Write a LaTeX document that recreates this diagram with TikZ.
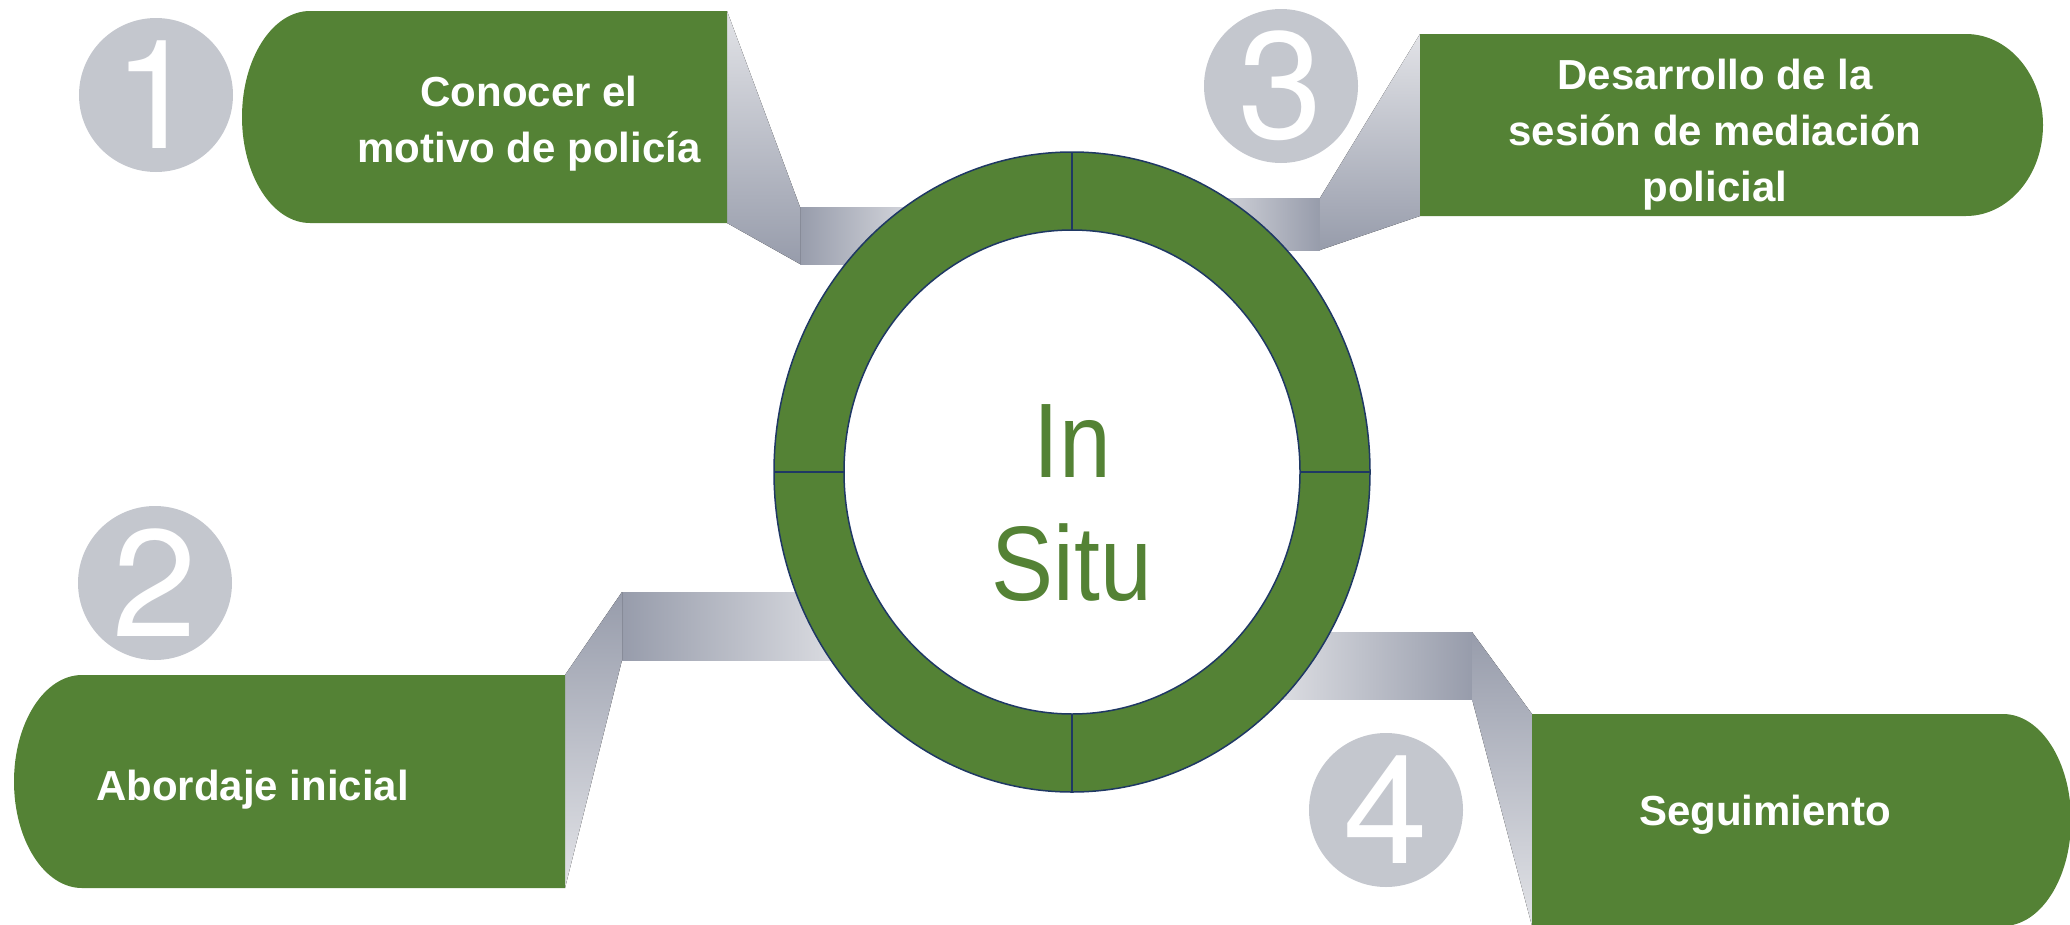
\documentclass[tikz,border=0pt]{standalone}
\usepackage{fontspec}
\setmainfont{Liberation Sans}
\newfontfamily\cifra{TeX Gyre Heros}
\usepackage{tikz}
\usetikzlibrary{positioning}
\definecolor{verde}{HTML}{548235}
\definecolor{gris}{HTML}{C4C7CE}
\definecolor{grisosc}{HTML}{979CAB}
\definecolor{grisclaro}{HTML}{E2E3E7}
\definecolor{azul}{HTML}{1F3864}

\begin{document}
\begin{tikzpicture}[x=1pt,y=-1pt,
numero/.style={circle,fill=gris,text=white,minimum size=154pt,inner sep=0pt,
	font=\cifra\fontsize{152}{152}\selectfont},
caja/.style={fill=verde},
texto/.style={text=white,inner sep=0pt,align=center,
	font=\bfseries\fontsize{42}{56}\selectfont},
grande/.style={text=verde,inner sep=0pt,font=\fontsize{93}{93}\selectfont}]
\useasboundingbox (0,0) rectangle (2070,924);

%corners of the four boxes
\coordinate(b1ne) at (727,11);   \coordinate(b1se) at (727,223);
\coordinate(b2ne) at (565,675);  \coordinate(b2se) at (565,888);
\coordinate(b3nw) at (1420,34);  \coordinate(b3sw) at (1420,216);
\coordinate(b4nw) at (1532,714); \coordinate(b4sw) at (1532,926);
\coordinate(c) at (1072,472);

%bars and side faces (behind the ring)
\fill[left color=grisosc,right color=grisclaro] (800,207) rectangle (935,264);
\fill[top color=grisclaro,bottom color=grisosc] (b1ne) -- (800,207) -- (800,264) -- (b1se) -- cycle;
\fill[left color=grisosc,right color=grisclaro] (622,592) rectangle (860,660);
\fill[top color=grisosc,bottom color=grisclaro] (b2ne) -- (622,592) -- (622,660) -- (b2se) -- cycle;
\fill[left color=grisclaro,right color=grisosc] (1190,198) rectangle (1320,250);
\fill[top color=grisclaro,bottom color=grisosc] (1320,198) -- (b3nw) -- (b3sw) -- (1320,250) -- cycle;
\fill[left color=grisclaro,right color=grisosc] (1262,632) rectangle (1472,699);
\fill[top color=grisosc,bottom color=grisclaro] (1472,632) -- (b4nw) -- (b4sw) -- (1472,699) -- cycle;

%green boxes, one round side each
\fill[caja] (b1ne) -- (310,11) arc[start angle=270,end angle=90,x radius=68,y radius=106] -- (b1se) -- cycle;
\fill[caja] (b2ne) -- (82,675) arc[start angle=270,end angle=90,x radius=68,y radius=106.5] -- (b2se) -- cycle;
\fill[caja] (b3nw) -- (1966,34) arc[start angle=270,end angle=450,x radius=77,y radius=91] -- (b3sw) -- cycle;
\fill[caja] (b4nw) -- (2003,714) arc[start angle=270,end angle=450,x radius=68,y radius=106] -- (b4sw) -- cycle;

%ring
\filldraw[fill=verde,draw=azul,line width=1.5pt] (c) ellipse [x radius=298,y radius=320];
\filldraw[fill=white,draw=azul,line width=1.5pt] (c) ellipse [x radius=228,y radius=242];
\foreach \a in {0,90,180,270}
	\draw[azul,line width=1.5pt] ([shift={(c)}]\a:228 and 242) -- ([shift={(c)}]\a:298 and 320);

%numbers
\foreach \n/\x/\y in {1/156/95,2/155/583,3/1281/86,4/1386/810}
	\node[numero](n\n) at (\x,\y) {\n};

%texts
\node[texto](t1) at (529,124) {Conocer el\\motivo de polic\'ia};
\node[texto,anchor=base west](t2) at (96,800) {Abordaje inicial};
\node[texto](t3) at (1715,135) {Desarrollo de la\\sesi\'on de mediaci\'on\\policial};
\node[texto,anchor=base](t4) at (1765,825) {Seguimiento};
\node[grande,anchor=base](in) at (1072,477) {\scalebox{1}[1.14]{In}};
\node[grande,anchor=base](situ) at (1072,600) {\scalebox{1}[1.14]{Situ}};
\end{tikzpicture}
\end{document}
